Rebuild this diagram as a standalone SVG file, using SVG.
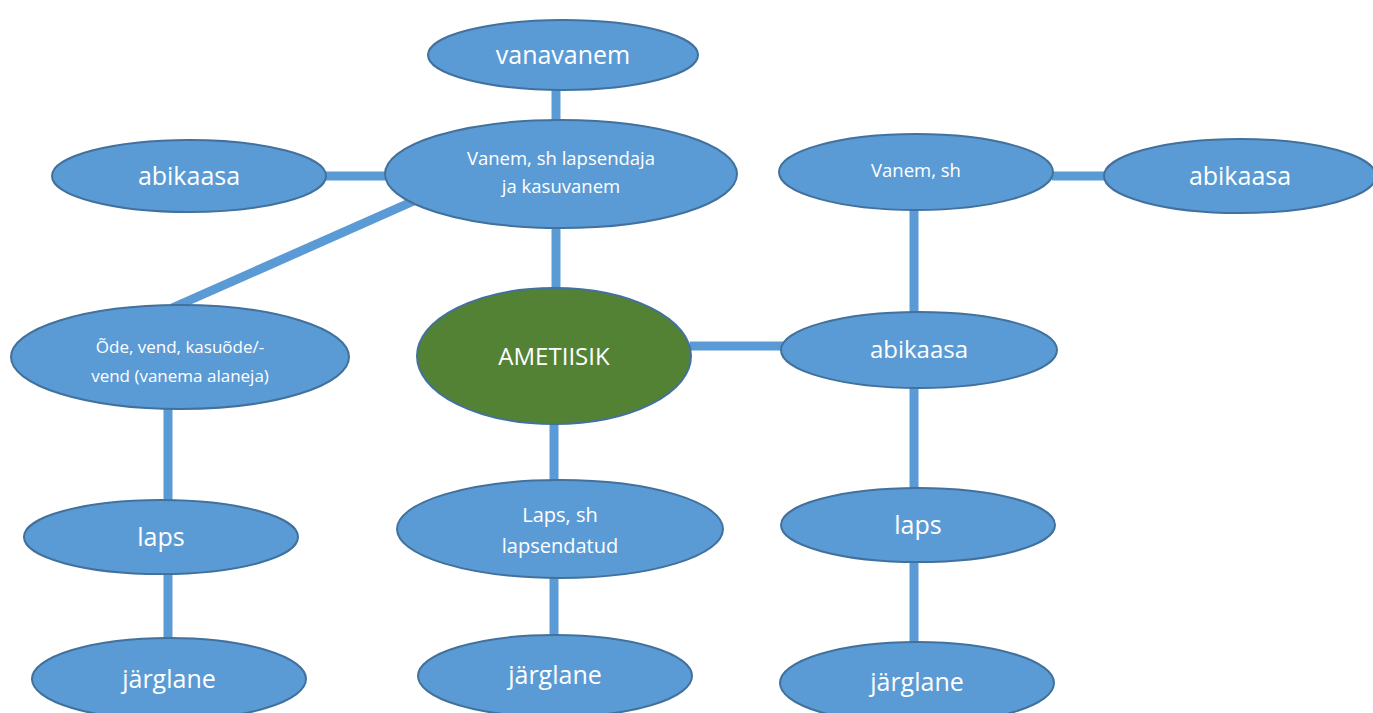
<svg xmlns="http://www.w3.org/2000/svg" width="1373" height="713" viewBox="0 0 1373 713">
<style>
.n{fill:#5b9bd5;stroke:#41719c;stroke-width:2}
.g{fill:#548235;stroke:#41719c;stroke-width:2}
.c{stroke:#5b9bd5;stroke-width:9;fill:none}
text{font-family:"Open Sans","Noto Sans",sans-serif;fill:#fff;text-anchor:middle}
.l{font-size:25px}.m{font-size:24px}.s{font-size:18.5px}.t{font-size:17px}.u{font-size:20px}
</style>
<rect width="1373" height="713" fill="#fff"/>
<g id="connectors">
<line class="c" x1="556" y1="88" x2="556" y2="122"/>
<line class="c" x1="324" y1="176" x2="388" y2="176"/>
<line class="c" x1="556" y1="226" x2="556" y2="289"/>
<line class="c" x1="416" y1="200" x2="172" y2="308"/>
<line class="c" x1="168" y1="406" x2="168" y2="502"/>
<line class="c" x1="168" y1="573" x2="168" y2="639"/>
<line class="c" x1="554" y1="422" x2="554" y2="482"/>
<line class="c" x1="554" y1="576" x2="554" y2="637"/>
<line class="c" x1="690" y1="346" x2="783" y2="346"/>
<line class="c" x1="1052" y1="176" x2="1106" y2="176"/>
<line class="c" x1="914" y1="208" x2="914" y2="314"/>
<line class="c" x1="914" y1="385" x2="914" y2="490"/>
<line class="c" x1="914" y1="561" x2="914" y2="644"/>
</g>
<g id="vanavanem"><ellipse class="n" cx="563" cy="55" rx="135" ry="35"/><text class="l" x="563" y="64">vanavanem</text></g>
<g id="vanem1"><ellipse class="n" cx="561" cy="174" rx="176" ry="54"/><text class="s" x="561" y="165">Vanem, sh lapsendaja</text><text class="s" x="561" y="193">ja kasuvanem</text></g>
<g id="abikaasa1"><ellipse class="n" cx="189" cy="176" rx="137" ry="36"/><text class="l" x="189" y="185">abikaasa</text></g>
<g id="vanem2"><ellipse class="n" cx="916" cy="172" rx="137" ry="38"/><text class="s" x="916" y="177">Vanem, sh</text></g>
<g id="abikaasa2"><ellipse class="n" cx="1240" cy="176" rx="136" ry="37"/><text class="l" x="1240" y="185">abikaasa</text></g>
<g id="ode"><ellipse class="n" cx="180" cy="357" rx="169" ry="52"/><text class="t" x="180" y="353">Õde, vend, kasuõde/-</text><text class="t" x="180" y="382">vend (vanema alaneja)</text></g>
<g id="ametiisik"><ellipse class="g" cx="554" cy="356" rx="137" ry="68"/><text class="m" x="554" y="365">AMETIISIK</text></g>
<g id="abikaasa3"><ellipse class="n" cx="919" cy="350" rx="138" ry="38"/><text class="m" x="919" y="358">abikaasa</text></g>
<g id="laps1"><ellipse class="n" cx="161" cy="537" rx="137" ry="37"/><text class="l" x="161" y="546">laps</text></g>
<g id="laps2"><ellipse class="n" cx="560" cy="529" rx="163" ry="49"/><text class="u" x="560" y="522">Laps, sh</text><text class="u" x="560" y="553">lapsendatud</text></g>
<g id="laps3"><ellipse class="n" cx="918" cy="525" rx="137" ry="37"/><text class="l" x="918" y="534">laps</text></g>
<g id="jarglane1"><ellipse class="n" cx="169" cy="679" rx="137" ry="41"/><text class="l" x="169" y="688">järglane</text></g>
<g id="jarglane2"><ellipse class="n" cx="555" cy="676" rx="137" ry="41"/><text class="l" x="555" y="684">järglane</text></g>
<g id="jarglane3"><ellipse class="n" cx="917" cy="683" rx="137" ry="41"/><text class="l" x="917" y="691">järglane</text></g>
</svg>
